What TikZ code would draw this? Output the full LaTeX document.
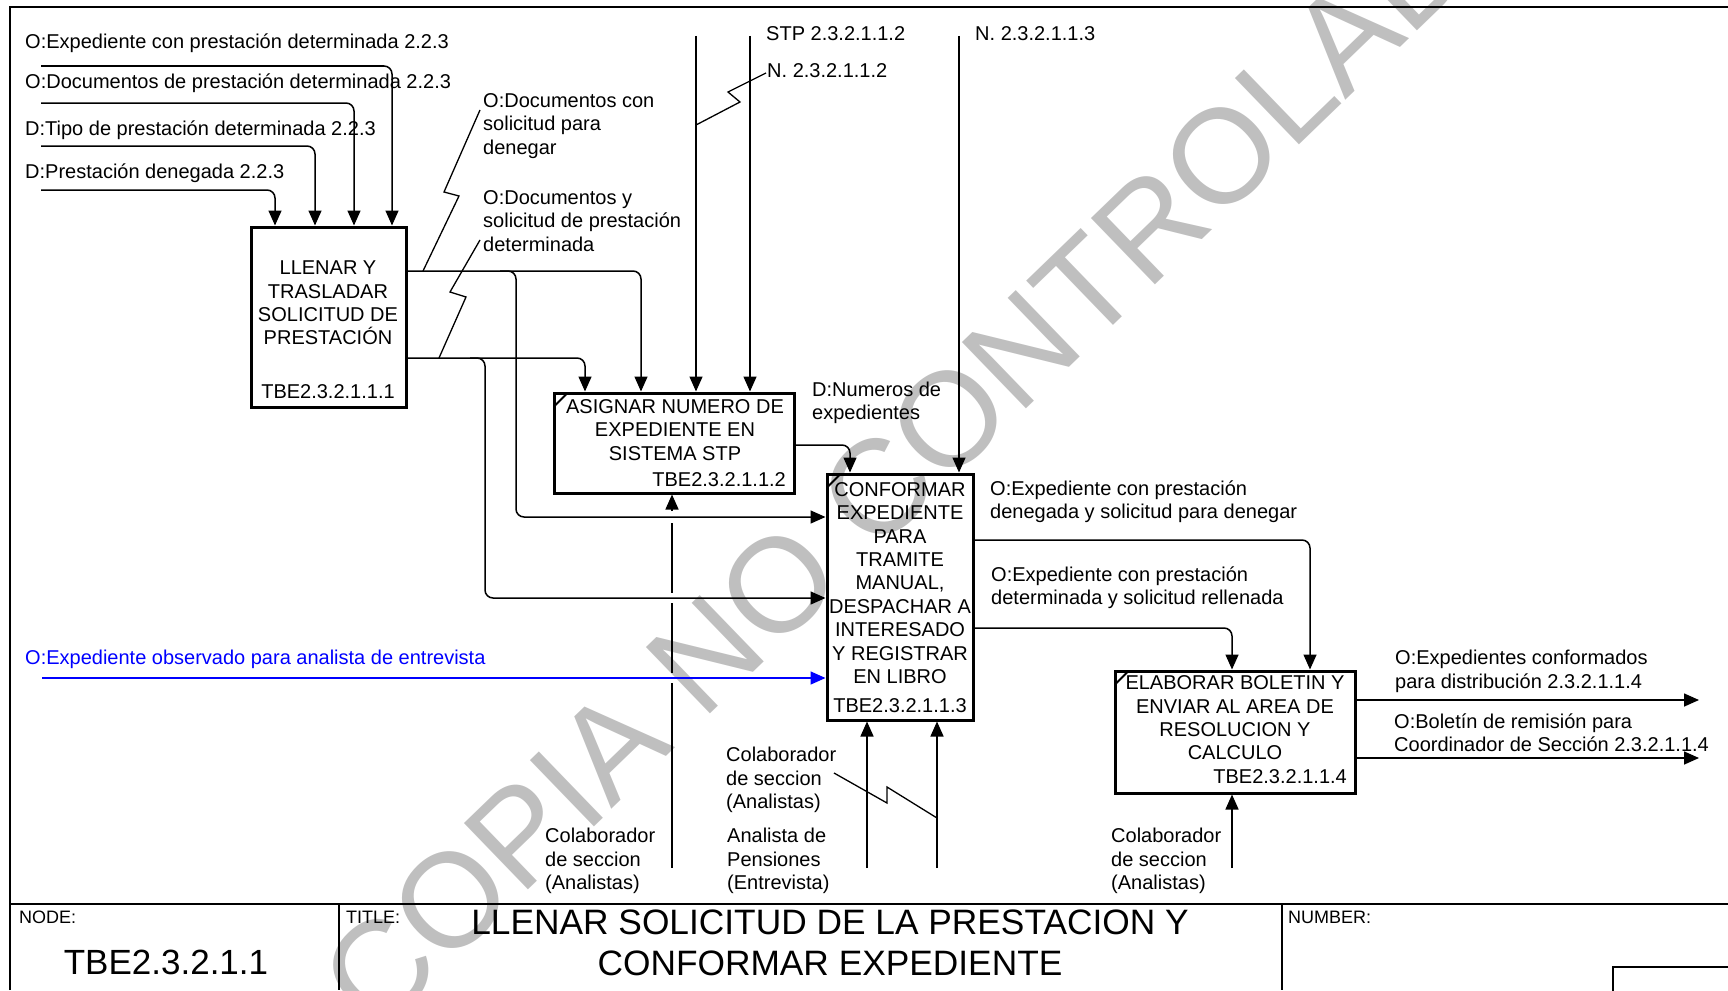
\documentclass[tikz,border=0pt]{standalone}
\usepackage{fontspec}
\setmainfont{Liberation Sans}
\usetikzlibrary{arrows.meta,calc}
\begin{document}
\begin{tikzpicture}[x=1pt,y=-1pt,
  lbl/.style={font=\fontsize{20}{23.4}\selectfont, inner sep=0pt, align=left, anchor=west},
  btxt/.style={font=\fontsize{20}{23.4}\selectfont, inner sep=0pt, align=center},
  small/.style={font=\fontsize{18}{20}\selectfont, inner sep=0pt, anchor=west},
  box/.style={draw, line width=3pt, inner sep=0pt},
  conn/.style={line width=1.5pt, rounded corners=8pt},
  arr/.style={conn, -{Triangle[length=15pt,width=13pt]}},
  sq/.style={line width=1.3pt},
  frame/.style={line width=2.2pt},
  wmark/.style={text=black!25, font=\fontsize{134}{134}\selectfont, inner sep=0pt}
]
\useasboundingbox (0,0) rectangle (1728,990);
% watermark
\node[wmark, rotate=44] (wm) at (928,440) {COPIA NO CONTROLADA};

% frame and title block
\draw[frame] (10,990) -- (10,7) -- (1728,7);
\draw[frame] (10,904) -- (1728,904);
\draw[frame] (339,904) -- (339,990);
\draw[frame] (1282,904) -- (1282,990);
\draw[line width=2pt] (1613,995) -- (1613,967) -- (1735,967);
\node[small] (nodelbl) at (19,917) {NODE:};
\node[small] (titlelbl) at (346,917) {TITLE:};
\node[small] (numlbl) at (1288,917) {NUMBER:};
\node[font=\fontsize{35}{40}\selectfont, inner sep=0pt] (nodeid) at (166,962) {TBE2.3.2.1.1};
\node[font=\fontsize{35.3}{41}\selectfont, inner sep=0pt, align=center] (title) at (830,943) {LLENAR SOLICITUD DE LA PRESTACION Y\\CONFORMAR EXPEDIENTE};

% boxes
\node[box, minimum width=155, minimum height=180] (b1) at (328.5,317) {};
\node[box, minimum width=240, minimum height=100] (b2) at (674,443) {};
\node[box, minimum width=146, minimum height=246] (b3) at (900,597) {};
\node[box, minimum width=240, minimum height=122] (b4) at (1235,732) {};
\foreach \b in {b2,b3,b4}{
  \draw[line width=2pt] ($(\b.north west)+(1.5,15)$) -- ($(\b.north west)+(15,1.5)$);
}
\node[btxt] (t1) at (328,303) {LLENAR Y\\TRASLADAR\\SOLICITUD DE\\PRESTACIÓN};
\node[btxt] (id1) at (328,392) {TBE2.3.2.1.1.1};
\node[btxt] (t2) at (675,430) {ASIGNAR NUMERO DE\\EXPEDIENTE EN\\SISTEMA STP};
\node[btxt, anchor=east] (id2) at (786,480) {TBE2.3.2.1.1.2};
\node[btxt] (t3) at (900,583) {CONFORMAR\\EXPEDIENTE\\PARA\\TRAMITE\\MANUAL,\\DESPACHAR A\\INTERESADO\\Y REGISTRAR\\EN LIBRO};
\node[btxt] (id3) at (900,706) {TBE2.3.2.1.1.3};
\node[btxt] (t4) at (1235,718) {ELABORAR BOLETIN Y\\ENVIAR AL AREA DE\\RESOLUCION Y\\CALCULO};
\node[btxt, anchor=east] (id4) at (1347,777) {TBE2.3.2.1.1.4};

% labels
\node[lbl] (l1) at (25,43) {O:Expediente con prestación determinada 2.2.3};
\node[lbl] (l2) at (25,83) {O:Documentos de prestación determinada 2.2.3};
\node[lbl] (l3) at (25,130) {D:Tipo de prestación determinada 2.2.3};
\node[lbl] (l4) at (25,173) {D:Prestación denegada 2.2.3};
\node[lbl] (l5) at (483,126) {O:Documentos con\\solicitud para\\denegar};
\node[lbl] (l6) at (483,221) {O:Documentos y\\solicitud de prestación\\determinada};
\node[lbl] (l7) at (766,34) {STP 2.3.2.1.1.2};
\node[lbl] (l8) at (767,71) {N. 2.3.2.1.1.2};
\node[lbl] (l9) at (975,34) {N. 2.3.2.1.1.3};
\node[lbl] (l10) at (812,403) {D:Numeros de\\expedientes};
\node[lbl] (l11) at (990,502) {O:Expediente con prestación\\denegada y solicitud para denegar};
\node[lbl] (l12) at (991,588) {O:Expediente con prestación\\determinada y solicitud rellenada};
\node[lbl] (l13) at (1395,671.5) {O:Expedientes conformados\\para distribución 2.3.2.1.1.4};
\node[lbl] (l14) at (1394,733) {O:Boletín de remisión para\\Coordinador de Sección 2.3.2.1.1.4};
\node[lbl, text=blue] (l15) at (25,659) {O:Expediente observado para analista de entrevista};
\node[lbl] (l16) at (545,861) {Colaborador\\de seccion\\(Analistas)};
\node[lbl] (l17) at (726,780) {Colaborador\\de seccion\\(Analistas)};
\node[lbl] (l18) at (727,861) {Analista de\\Pensiones\\(Entrevista)};
\node[lbl] (l19) at (1111,861) {Colaborador\\de seccion\\(Analistas)};

% inputs to box 1
\coordinate (i1) at (41,66);
\coordinate (i2) at (41,103);
\coordinate (i3) at (41,146);
\coordinate (i4) at (41,190);
\draw[arr] (i1) -- (392,66) -- (b1.north -| 392,0);
\draw[arr] (i2) -- (354,103) -- (b1.north -| 354,0);
\draw[arr] (i3) -- (315,146) -- (b1.north -| 315,0);
\draw[arr] (i4) -- (275,190) -- (b1.north -| 275,0);

% outputs of box 1
\draw[arr] (b1.east |- 0,271) -- (641,271) -- (b2.north -| 641,0);
\draw[arr] (500,271) -- (516,271) -- (516,517) -- (b3.west |- 0,517);
\draw[arr] (b1.east |- 0,358) -- (585,358) -- (b2.north -| 585,0);
\draw[arr] (470,358) -- (485,358) -- (485,598) -- (b3.west |- 0,598);
\draw[sq] (480,110) -- (444,192) -- (459,196) -- (423,271);
\draw[sq] (480,240) -- (450,292) -- (466,297) -- (439,358);

% controls from top
\coordinate (c1) at (696,36);
\coordinate (c2) at (750,36);
\coordinate (c3) at (959,36);
\draw[arr] (c1) -- (b2.north -| c1);
\draw[arr] (c2) -- (b2.north -| c2);
\draw[arr] (c3) -- (b3.north -| c3);
\draw[sq] (766,73) -- (728,92) -- (740,102) -- (696,125);

% box2 -> box3
\draw[arr] (b2.east |- 0,445) -- (850,445) -- (b3.north -| 850,0);

% mechanism of box 2 (with gaps at crossings)
\coordinate (m1) at (672,868);
\draw[arr] (672,511) -- (b2.south -| 672,0);
\draw[conn] (672,523) -- (672,593);
\draw[conn] (672,603) -- (672,673);
\draw[conn] (672,683) -- (m1);

% blue input
\coordinate (bl) at (42,678);
\draw[arr, blue] (bl) -- (b3.west |- bl);

% mechanisms of box 3
\coordinate (m2) at (867,868);
\coordinate (m3) at (937,868);
\draw[arr] (m2) -- (b3.south -| m2);
\draw[arr] (m3) -- (b3.south -| m3);
\draw[sq] (834,773) -- (887,803) -- (887,787) -- (937,818);

% outputs of box 3
\draw[arr] (b3.east |- 0,540) -- (1310,540) -- (b4.north -| 1310,0);
\draw[arr] (b3.east |- 0,628) -- (1232,628) -- (b4.north -| 1232,0);

% mechanism of box 4
\coordinate (m4) at (1232,868);
\draw[arr] (m4) -- (b4.south -| m4);

% outputs of box 4
\coordinate (e1) at (1699,700);
\coordinate (e2) at (1699,758);
\draw[arr] (b4.east |- e1) -- (e1);
\draw[arr] (b4.east |- e2) -- (e2);
\end{tikzpicture}
\end{document}
